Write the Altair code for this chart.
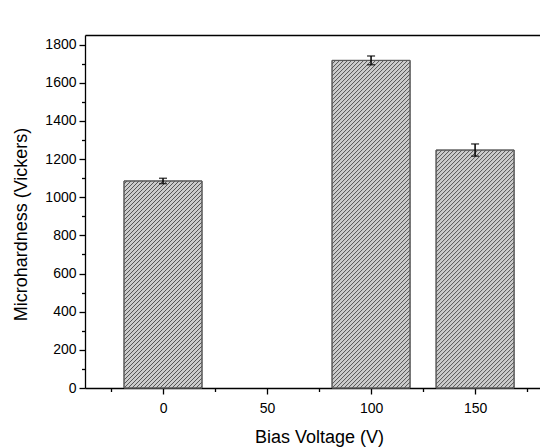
import altair as alt
import pandas as pd

# ---- data ----
voltages = [0, 100, 150]
hardness = [1085, 1717, 1247]
errors = [14, 23, 32]
x_tick_values = [-25, 0, 25, 50, 75, 100, 125, 150, 175]
y_tick_values = list(range(0, 1801, 100))

df = pd.DataFrame({"v": voltages, "h": hardness, "e": errors})

W_PX, H_PX = 455, 353
X_DOM = [-37.5, 181.2]
Y_DOM = [0, 1850]
sx = W_PX / (X_DOM[1] - X_DOM[0])
sy = H_PX / (Y_DOM[1] - Y_DOM[0])
half = 18.75
spacing = 4.0
FONT = "Liberation Sans"

xscale = alt.Scale(domain=X_DOM, nice=False, zero=False)
yscale = alt.Scale(domain=Y_DOM, nice=False)

xaxis = alt.Axis(
    values=x_tick_values,
    labelExpr="datum.value % 50 === 0 ? datum.label : ''",
    tickSize={"condition": {"test": "datum.value % 50 === 0", "value": 6}, "value": 3.5},
    title="Bias Voltage (V)",
    titleFontSize=18, titleFontWeight="normal", titleColor="black", titleFont=FONT,
    titleX=234, titleY=54, titleBaseline="alphabetic",
    labelFontSize=14, labelColor="black", labelFont=FONT, labelPadding=7,
    domainColor="black", domainWidth=1.3, tickColor="black", tickWidth=1.3,
    grid=False, format="d",
)
yaxis = alt.Axis(
    values=y_tick_values,
    labelExpr="datum.value % 200 === 0 ? datum.label : ''",
    tickSize={"condition": {"test": "datum.value % 200 === 0", "value": 6}, "value": 3.5},
    title="Microhardness (Vickers)",
    titleFontSize=18, titleFontWeight="normal", titleColor="black", titleFont=FONT,
    titleX=-59, titleY=189, titleBaseline="alphabetic", titleAlign="center", titleAngle=270,
    labelFontSize=14, labelColor="black", labelFont=FONT, labelPadding=3,
    domainColor="black", domainWidth=1.3, tickColor="black", tickWidth=1.3,
    grid=False, format="d",
)

base = alt.Chart(df)

bars = base.transform_calculate(
    x1=f"datum.v - {half}", x2=f"datum.v + {half}"
).mark_rect(fill="#cccccc", stroke="#5a5a5a", strokeWidth=1).encode(
    x=alt.X("x1:Q", scale=xscale, axis=xaxis),
    x2="x2:Q",
    y=alt.Y("h:Q", scale=yscale, axis=yaxis),
    y2=alt.datum(0),
)

hatch = base.transform_calculate(
    left=f"datum.v - {half}",
    W=f"{2 * half * sx}",
    H=f"datum.h * {sy}",
).transform_calculate(
    c=f"sequence(-datum.W + {spacing / 2}, datum.H, {spacing})"
).transform_flatten(["c"]).transform_calculate(
    px0="max(0, -datum.c)",
    px1="min(datum.W, datum.H - datum.c)",
).transform_calculate(
    hx=f"datum.left + datum.px0 / {sx}",
    hx2=f"datum.left + datum.px1 / {sx}",
    hy=f"(datum.px0 + datum.c) / {sy}",
    hy2=f"(datum.px1 + datum.c) / {sy}",
).mark_rule(color="#555555", strokeWidth=1.0).encode(
    x=alt.X("hx:Q", scale=xscale, axis=None),
    x2="hx2:Q",
    y=alt.Y("hy:Q", scale=yscale, axis=yaxis),
    y2="hy2:Q",
)

outline = base.transform_calculate(
    x1=f"datum.v - {half}", x2=f"datum.v + {half}"
).mark_rect(fill=None, stroke="#5a5a5a", strokeWidth=1).encode(
    x=alt.X("x1:Q", scale=xscale, axis=None),
    x2="x2:Q",
    y=alt.Y("h:Q", scale=yscale, axis=yaxis),
    y2=alt.datum(0),
)

err = base.transform_calculate(lo="datum.h - datum.e", hi="datum.h + datum.e")

stems = err.mark_rule(color="black", strokeWidth=1.5).encode(
    x=alt.X("v:Q", scale=xscale, axis=None),
    y=alt.Y("lo:Q", scale=yscale, axis=yaxis),
    y2="hi:Q",
)
cap_lo = err.mark_tick(orient="horizontal", size=8, thickness=1.5, color="black").encode(
    x=alt.X("v:Q", scale=xscale, axis=None),
    y=alt.Y("lo:Q", scale=yscale, axis=yaxis),
)
cap_hi = err.mark_tick(orient="horizontal", size=8, thickness=1.5, color="black").encode(
    x=alt.X("v:Q", scale=xscale, axis=None),
    y=alt.Y("hi:Q", scale=yscale, axis=yaxis),
)

top = base.mark_point(opacity=0).encode(
    x=alt.X("v:Q", scale=xscale,
            axis=alt.Axis(orient="top", labels=False, ticks=False, title=None,
                          domainColor="black", domainWidth=1.3, grid=False)),
    y=alt.Y("h:Q", scale=yscale, axis=yaxis),
)

chart = alt.layer(bars, hatch, outline, stems, cap_lo, cap_hi, top).resolve_axis(
    x="independent"
).properties(
    width=W_PX,
    height=H_PX,
    padding={"left": 77, "top": 27, "right": 0, "bottom": 59},
    autosize=alt.AutoSizeParams(type="none"),
    background="white",
).configure_view(stroke=None)

chart.save("out.html", embed_options={"renderer": "svg", "actions": False})
